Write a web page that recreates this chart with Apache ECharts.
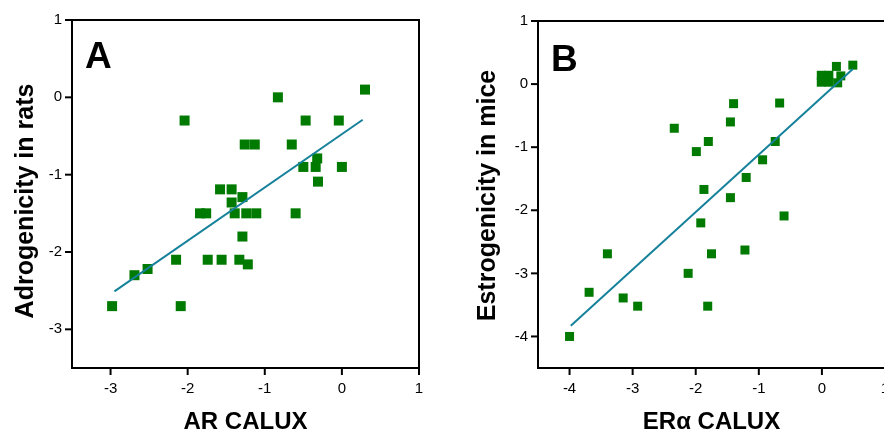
<!DOCTYPE html>
<html>
<head>
<meta charset="utf-8">
<script src="https://cdn.jsdelivr.net/npm/echarts@6/dist/echarts.min.js"></script>
<style>
  html, body { margin: 0; padding: 0; background: #fff; }
  #main { width: 884px; height: 434px; }
</style>
</head>
<body>
<div id="main"></div>
<script>
// panel A: AR CALUX vs androgenicity in rats
const arCalux = [0.30, -0.83, -2.04, -0.47, -0.04, -1.26, -1.13, -0.65, -0.32, -0.50, -0.34, 0.00, -0.31,
  -1.58, -1.43, -1.29, -1.43, -1.84, -1.76, -1.39, -1.24, -1.11, -0.60, -1.29, -2.15, -1.74, -1.56,
  -1.33, -1.22, -2.52, -2.69, -2.98, -2.09]
const ratsAndrogenicity = [0.10, 0.00, -0.30, -0.30, -0.30, -0.61, -0.61, -0.61, -0.79, -0.90, -0.90, -0.90, -1.09,
  -1.19, -1.19, -1.29, -1.36, -1.50, -1.50, -1.50, -1.50, -1.50, -1.50, -1.80, -2.10, -2.10, -2.10,
  -2.10, -2.16, -2.22, -2.30, -2.70, -2.70]
const fitAx = [-2.95, 0.27]
const fitAy = [-2.51, -0.29]

// panel B: ERa CALUX vs estrogenicity in mice
const eraCalux = [-4.00, -3.69, -3.40, -3.15, -2.92, -2.34, -2.12, -1.99, -1.92, -1.87, -1.80, -1.81, -1.75,
  -1.45, -1.40, -1.45, -1.22, -1.20, -0.94, -0.74, -0.67, -0.60, -0.01, -0.01, 0.11, 0.11, 0.23, 0.25, 0.30, 0.49]
const miceEstrogenicity = [-4.00, -3.30, -2.69, -3.39, -3.52, -0.70, -3.00, -1.07, -2.20, -1.67, -0.91, -3.52, -2.69,
  -0.60, -0.31, -1.80, -2.63, -1.48, -1.20, -0.91, -0.30, -2.09, 0.14, 0.03, 0.14, 0.03, 0.28, 0.02, 0.13, 0.30]
const fitBx = [-3.98, 0.49]
const fitBy = [-3.83, 0.24]

const rangeA = [-3.5, 1]
const rangeB = [-4.5, 1]
const ticksA = [-3, -2, -1, 0, 1]
const ticksB = [-4, -3, -2, -1, 0, 1]

const green = '#007a00'
const teal = '#16819a'
const font = 'Liberation Sans, Arial, sans-serif'
const tickLen = 7

const zip = (xs, ys) => xs.map((x, i) => [x, ys[i]])
const hidden = { show: false }
// let labels spill past the canvas edge instead of shrinking the grid
const bounds = { left: -60, right: -60, top: -60, bottom: -60 }

function axisOf(grid, range, ticks, name, gap, size, pad, margin) {
  return {
    type: 'value', gridIndex: grid, min: range[0], max: range[1],
    name: name, nameLocation: 'middle', nameGap: gap,
    nameTextStyle: { fontFamily: font, fontWeight: 'bold', fontSize: size, color: '#000', padding: pad },
    splitLine: hidden, axisTick: hidden,
    axisLine: { show: true, onZero: false, lineStyle: { color: '#000', width: 2 } },
    axisLabel: { customValues: ticks, margin: margin, fontFamily: font, fontSize: 15, color: '#000' }
  }
}

const chart = echarts.init(document.getElementById('main'))
chart.setOption({
  animation: false,
  grid: [
    { left: 72, top: 20, width: 347, height: 348, outerBounds: bounds, show: true, borderColor: '#000', borderWidth: 2, backgroundColor: 'transparent' },
    { left: 538, top: 21, width: 347, height: 347, outerBounds: bounds, show: true, borderColor: '#000', borderWidth: 2, backgroundColor: 'transparent' }
  ],
  title: [
    { text: 'A', left: 80, top: 34, textStyle: { fontFamily: font, fontSize: 37, fontWeight: 'bold', color: '#000' } },
    { text: 'B', left: 546, top: 37, textStyle: { fontFamily: font, fontSize: 37, fontWeight: 'bold', color: '#000' } }
  ],
  xAxis: [
    axisOf(0, rangeA, ticksA, 'AR CALUX', 42, 24, 0, 13),
    axisOf(1, rangeB, ticksB, 'ERα CALUX', 42, 24, 0, 13)
  ],
  yAxis: [
    axisOf(0, rangeA, ticksA, 'Adrogenicity in rats', 33, 25, [0, 14, 0, 0], 10),
    axisOf(1, rangeB, ticksB, 'Estrogenicity in mice', 37, 25, [0, 2, 0, 0], 10)
  ],
  series: [
    {
      type: 'line', xAxisIndex: 0, yAxisIndex: 0, data: zip(fitAx, fitAy),
      showSymbol: false, lineStyle: { color: teal, width: 2 }, z: 3
    },
    {
      type: 'scatter', xAxisIndex: 0, yAxisIndex: 0, data: zip(arCalux, ratsAndrogenicity),
      symbol: 'rect', symbolSize: 10, itemStyle: { color: green, opacity: 1 }, z: 2
    },
    {
      type: 'line', xAxisIndex: 1, yAxisIndex: 1, data: zip(fitBx, fitBy),
      showSymbol: false, lineStyle: { color: teal, width: 2 }, z: 3
    },
    {
      type: 'scatter', xAxisIndex: 1, yAxisIndex: 1, data: zip(eraCalux, miceEstrogenicity),
      symbol: 'rect', symbolSize: 9, itemStyle: { color: green, opacity: 1 }, z: 2
    }
  ]
})

// outward tick marks, placed through the axes' own scales
function ticksFor(idx, range, ticks) {
  const out = []
  const x0 = chart.convertToPixel({ xAxisIndex: idx }, range[0])
  const y0 = chart.convertToPixel({ yAxisIndex: idx }, range[0])
  ticks.forEach(function (v) {
    const x = chart.convertToPixel({ xAxisIndex: idx }, v)
    const y = chart.convertToPixel({ yAxisIndex: idx }, v)
    out.push({ type: 'line', shape: { x1: x, y1: y0, x2: x, y2: y0 + tickLen }, style: { stroke: '#000', lineWidth: 2 } })
    out.push({ type: 'line', shape: { x1: x0 - tickLen, y1: y, x2: x0, y2: y }, style: { stroke: '#000', lineWidth: 2 } })
  })
  return out
}
chart.setOption({ graphic: ticksFor(0, rangeA, ticksA).concat(ticksFor(1, rangeB, ticksB)) })
</script>
</body>
</html>
